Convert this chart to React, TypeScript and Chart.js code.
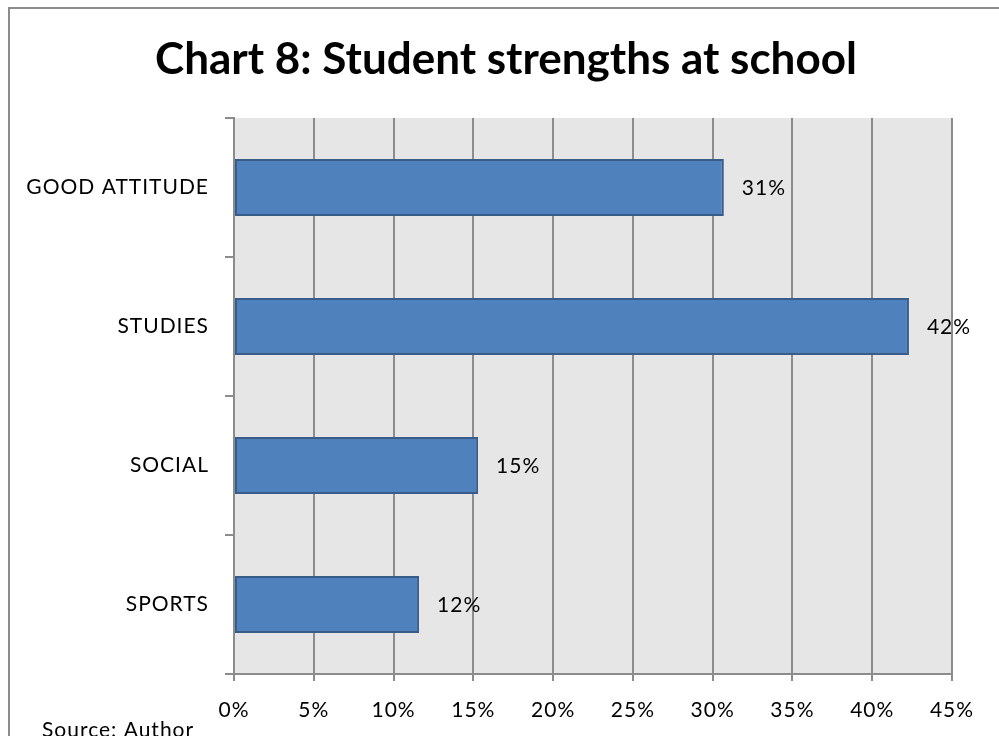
import React, { useEffect, useRef } from "react";
import { Chart, registerables } from "chart.js";

Chart.register(...registerables);

const categories = ["GOOD ATTITUDE", "STUDIES", "SOCIAL", "SPORTS"];
const values = [30.7, 42.3, 15.3, 11.6];
const valueLabels = ["31%", "42%", "15%", "12%"];
const xTicks = [0, 5, 10, 15, 20, 25, 30, 35, 40, 45];
const titleText = "Chart 8: Student strengths at school";
const sourceText = "Source: Author";

const FONT = "Lato, 'Open Sans', sans-serif";
const SPACING = "1px";
const SIZE = 21;

const decorPlugin = {
  id: "decor",
  beforeDraw(chart: any) {
    const { ctx, chartArea } = chart;
    ctx.save();
    ctx.fillStyle = "#ffffff";
    ctx.fillRect(0, 0, chart.width, chart.height);
    ctx.fillStyle = "#e6e6e6";
    ctx.fillRect(chartArea.left, chartArea.top, chartArea.right - chartArea.left, chartArea.bottom - chartArea.top);
    ctx.strokeStyle = "#8c8c8c";
    ctx.lineWidth = 2;
    ctx.strokeRect(9, 8, 1200, 1000);
    ctx.restore();
    (ctx as any).letterSpacing = SPACING;
  },
  afterDraw(chart: any) {
    const { ctx } = chart;
    ctx.save();
    (ctx as any).letterSpacing = "0px";
    ctx.fillStyle = "#000";
    ctx.font = `bold 44px ${FONT}`;
    ctx.textAlign = "center";
    ctx.textBaseline = "alphabetic";
    ctx.fillText(titleText, 506, 74);
    (ctx as any).letterSpacing = SPACING;
    ctx.font = `${SIZE}px ${FONT}`;
    ctx.textAlign = "left";
    ctx.fillText(sourceText, 42, 737);
    ctx.restore();
  },
  afterDatasetsDraw(chart: any) {
    const { ctx } = chart;
    const meta = chart.getDatasetMeta(0);
    ctx.save();
    (ctx as any).letterSpacing = SPACING;
    ctx.fillStyle = "#000";
    ctx.font = `${SIZE}px ${FONT}`;
    ctx.textAlign = "left";
    ctx.textBaseline = "middle";
    meta.data.forEach((bar: any, i: number) => {
      ctx.fillText(valueLabels[i], bar.x + 18, bar.y + 1);
    });
    ctx.restore();
  },
};

export default function App() {
  const ref = useRef<HTMLCanvasElement>(null);
  useEffect(() => {
    if (!ref.current) return;
    const c2d = ref.current.getContext("2d") as any;
    if (c2d) c2d.letterSpacing = SPACING;
    const chart = new Chart(ref.current, {
      type: "bar",
      data: {
        labels: categories,
        datasets: [
          {
            data: values,
            backgroundColor: "#4f81bd",
            borderColor: "#385d8a",
            borderWidth: 2,
            borderSkipped: false,
            barPercentage: 0.41,
            categoryPercentage: 1,
          },
        ],
      },
      options: {
        indexAxis: "y",
        responsive: false,
        animation: false,
        layout: { padding: { left: 0, top: 118, right: 47, bottom: 0 } },
        plugins: { legend: { display: false }, tooltip: { enabled: false }, title: { display: false } },
        scales: {
          x: {
            type: "linear",
            min: 0,
            max: 45,
            afterFit: (s: any) => {
              s.height = 62;
            },
            afterBuildTicks: (s: any) => {
              s.ticks = xTicks.map((v) => ({ value: v }));
            },
            ticks: {
              callback: (v: any) => `${v}%`,
              color: "#000",
              font: { family: FONT, size: SIZE },
              padding: 17,
              maxRotation: 0,
              autoSkip: false,
            },
            grid: { color: "#8c8c8c", lineWidth: 2, tickLength: 7, drawTicks: true },
            border: { display: true, color: "#8c8c8c", width: 2 },
          },
          y: {
            type: "category",
            afterFit: (s: any) => {
              s.width = 234;
            },
            ticks: {
              color: "#000",
              font: { family: FONT, size: SIZE },
              padding: 16,
            },
            grid: { offset: true, drawOnChartArea: false, drawTicks: true, tickLength: 9, color: "#8c8c8c", lineWidth: 2 },
            border: { display: true, color: "#8c8c8c", width: 2 },
          },
        },
      },
      plugins: [decorPlugin],
    } as any);
    return () => chart.destroy();
  }, []);
  return (
    <div style={{ position: "absolute", left: 0, top: 0, width: 999, height: 736 }}>
      <canvas ref={ref} width={999} height={736} style={{ width: 999, height: 736 }} />
    </div>
  );
}
